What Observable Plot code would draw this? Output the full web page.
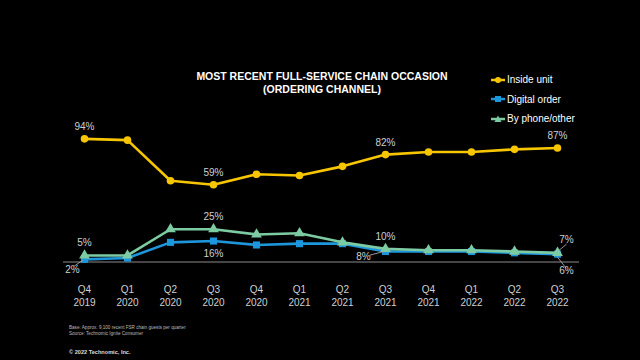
<!DOCTYPE html>
<html><head><meta charset="utf-8">
<script src="https://cdn.jsdelivr.net/npm/d3@7"></script>
<script src="https://cdn.jsdelivr.net/npm/@observablehq/plot@0.6"></script>
<style>
html,body{margin:0;padding:0;background:#000;}
#wrap{position:relative;width:640px;height:360px;background:#000;font-family:"Liberation Sans",Arial,sans-serif;overflow:hidden}
#chart{position:absolute;left:0;top:0}
.title{position:absolute;left:122px;width:400px;top:70px;text-align:center;color:#fff;font-weight:bold;font-size:10.5px;line-height:12.6px}
.legend{position:absolute;left:491px;top:70px;color:#fff;font-size:10px}
.legend div{height:19.5px;display:flex;align-items:center}
.legend svg{margin-right:1px}
.foot{position:absolute;left:69px;top:325px;color:#bbb;font-size:4.6px;line-height:5.6px}
.copy{position:absolute;left:69px;top:349px;color:#ddd;font-size:5.6px;font-weight:bold}
</style></head>
<body>
<div id="wrap">
  <div id="chart"></div>
  <div class="title">MOST RECENT FULL-SERVICE CHAIN OCCASION<br>(ORDERING CHANNEL)</div>
  <div class="legend" id="legend"></div>
  <div class="foot">Base: Approx. 9,100 recent FSR chain guests per quarter<br>Source: Technomic Ignite Consumer</div>
  <div class="copy">© 2022 Technomic, Inc.</div>
</div>
<script>
const quarters = ["Q4 2019","Q1 2020","Q2 2020","Q3 2020","Q4 2020","Q1 2021","Q2 2021","Q3 2021","Q4 2021","Q1 2022","Q2 2022","Q3 2022"];
const seriesNames = ["Inside unit","Digital order","By phone/other"];
const insideUnit = [94, 93, 62, 59, 67, 66, 73, 82, 84, 84, 86, 87];
const digitalOrder = [2, 3, 15, 16, 13, 14, 14, 8, 8, 8, 7, 6];
const byPhone = [5, 5, 25, 25, 21, 22, 15, 10, 9, 9, 8, 7];
// labelled points: [series, quarter]
const labelled = [
  ["Inside unit","Q4 2019"],["Inside unit","Q3 2020"],["Inside unit","Q3 2021"],["Inside unit","Q3 2022"],
  ["By phone/other","Q4 2019"],["By phone/other","Q3 2020"],["By phone/other","Q3 2021"],["By phone/other","Q3 2022"],
  ["Digital order","Q4 2019"],["Digital order","Q3 2020"],["Digital order","Q3 2021"],["Digital order","Q3 2022"]
];

const colors = {"Inside unit":"#F7C600","Digital order":"#1E96DC","By phone/other":"#7DCBA3"};
const symbols = {"Inside unit":"circle","Digital order":"square","By phone/other":"triangle"};
const valuesBy = {"Inside unit":insideUnit,"Digital order":digitalOrder,"By phone/other":byPhone};

const rows = [];
for (const s of seriesNames) quarters.forEach((q,i)=>rows.push({series:s, q, v:valuesBy[s][i]}));
const find = (s,q)=>rows.find(r=>r.series===s&&r.q===q);

// label placement (style, not data)
const place = {
  "Inside unit|Q4 2019":{dx:0,dy:-12},
  "Inside unit|Q3 2020":{dx:0,dy:-12},
  "Inside unit|Q3 2021":{dx:0,dy:-12},
  "Inside unit|Q3 2022":{dx:0,dy:-12},
  "By phone/other|Q4 2019":{dx:0,dy:-13},
  "By phone/other|Q3 2020":{dx:0,dy:-12},
  "By phone/other|Q3 2021":{dx:0,dy:-12},
  "By phone/other|Q3 2022":{dx:9,dy:-13,lead:{len:8,rot:50,dx:1,dy:-2}},
  "Digital order|Q4 2019":{dx:-12,dy:10,lead:{len:8,rot:235,dx:-2,dy:1}},
  "Digital order|Q3 2020":{dx:0,dy:13},
  "Digital order|Q3 2021":{dx:-22,dy:5,lead:{len:11,rot:255,dx:-2,dy:0}},
  "Digital order|Q3 2022":{dx:9,dy:17,lead:{len:11,rot:142,dx:0,dy:3}}
};
const labels = labelled.map(([s,q])=>{const r=find(s,q); const p=place[s+"|"+q]; return {...r, text:r.v+"%", ...p};});
const leads = labels.filter(d=>d.lead).map(d=>({...d, ...d.lead}));

const lineShape = {draw(context, l){context.moveTo(0,0); context.lineTo(0,-l);}};

const textMarks = labels.map(d=>Plot.text([d],{x:"q",y:"v",text:"text",dx:d.dx,dy:d.dy,fill:"#d0d0d0",fontSize:10}));
const leadMarks = leads.map(d=>Plot.vector([d],{x:"q",y:"v",length:()=>d.len,rotate:()=>d.rot,anchor:"start",dx:d.dx,dy:d.dy,stroke:"#aaa",strokeWidth:0.8,shape:lineShape}));

const drawOrder = ["Inside unit","Digital order","By phone/other"];
const seriesMarks = drawOrder.flatMap(s=>{
  const data = rows.filter(r=>r.series===s);
  return [
    Plot.line(data,{x:"q",y:"v",stroke:colors[s],strokeWidth:2.6}),
    Plot.dot(data,{x:"q",y:"v",fill:colors[s],symbol:()=>symbols[s],r:s==="Inside unit"?3.8:4})
  ];
});

const chart = Plot.plot({
  width:640, height:360,
  marginLeft:84, marginRight:83, marginTop:130.5, marginBottom:98.5,
  style:{background:"transparent",color:"#d0d0d0",fontFamily:"Liberation Sans, Arial, sans-serif",overflow:"visible"},
  x:{type:"point",domain:quarters,padding:0,round:false},
  y:{domain:[0,100],axis:null},
  symbol:{type:"identity"},
  marks:[
    Plot.ruleY([0],{stroke:"#8c8c8c",strokeWidth:1,insetLeft:-21,insetRight:-22}),
    Plot.axisX({tickSize:0,tickPadding:22,fontSize:10,lineHeight:1.3,tickFormat:d=>d.replace(" ","\n"),label:null,fill:"#d0d0d0"}),
    ...seriesMarks,
    ...leadMarks,
    ...textMarks
  ]
});
document.getElementById("chart").appendChild(chart);

// legend
const leg = document.getElementById("legend");
for (const s of seriesNames){
  const row = document.createElement("div");
  const sym = symbols[s]==="circle" ? `<circle cx="7" cy="5" r="3" fill="${colors[s]}"/>`
    : symbols[s]==="square" ? `<rect x="4" y="2" width="6" height="6" fill="${colors[s]}"/>`
    : `<path d="M7,1.5L10.5,8L3.5,8Z" fill="${colors[s]}"/>`;
  row.innerHTML = `<svg width="15" height="10"><line x1="0" x2="14" y1="5" y2="5" stroke="${colors[s]}" stroke-width="2.5"/>${sym}</svg><span>${s}</span>`;
  leg.appendChild(row);
}
</script>
</body></html>
